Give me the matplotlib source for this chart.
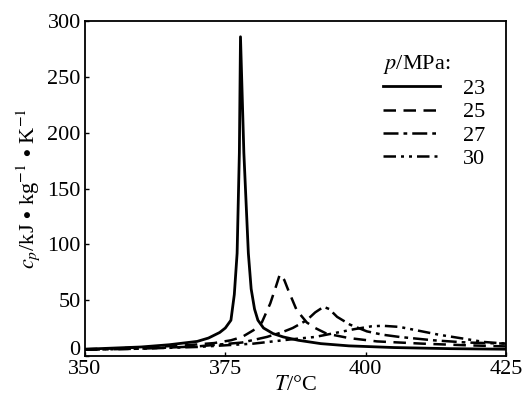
import matplotlib
matplotlib.use("Agg")
import matplotlib.pyplot as plt
from matplotlib.transforms import ScaledTranslation

plt.rcParams['font.family'] = ['Liberation Serif', 'DejaVu Serif']
plt.rcParams['mathtext.fontset'] = 'stix'

# p = 23 MPa
t_23 = [350, 360, 365, 370, 372, 374, 375, 376, 376.6, 377.1, 377.5, 377.7,
        378.3, 379.1, 379.6, 380.2, 380.8, 381.8, 383.5, 385.3, 388, 392, 397,
        405, 415, 425]
cp_23 = [6, 8, 10, 13, 16, 21, 25, 32, 55, 92, 182, 286,
         182, 92, 60, 42, 32, 25, 20, 17, 14, 11, 9,
         7.5, 6.5, 6]

# p = 25 MPa
t_25 = [350, 360, 368, 373, 376, 378, 380, 381.5, 383, 384, 384.7, 385.5,
        386.2, 387.7, 389.5, 391, 393, 397, 402, 410, 418, 425]
cp_25 = [6, 7.5, 9.5, 11.5, 14, 17, 23, 30, 47, 62, 73, 68,
         59, 41, 30, 25, 20, 16, 13, 11, 9.5, 8.5]

# p = 27 MPa
t_27 = [350, 360, 370, 378, 382.4, 385, 387, 389.5, 391, 392.5, 393.5,
        394.9, 397.2, 400.2, 403, 406, 412, 418, 425]
cp_27 = [5.5, 6.5, 8.5, 12, 17, 21, 25, 32, 39, 44, 42,
         35, 28, 22, 19, 17, 14, 12, 11]

# p = 30 MPa
t_30 = [350, 360, 370, 380, 387, 391, 395, 398, 401, 403, 406,
        410, 413, 418, 421, 425]
cp_30 = [5.5, 6.5, 8, 11, 15, 17, 21, 24, 26.5, 27, 26,
         22, 19, 15, 12.5, 11]

labels = ['23', '25', '27', '30']

fs = 16

fig = plt.figure(figsize=(5.24, 3.99), dpi=100)
ax = fig.add_axes([0.162, 0.108, 0.804, 0.839])

ax.plot(t_23, cp_23, color='black', lw=2.0, ls='-', label=labels[0])
ax.plot(t_25, cp_25, color='black', lw=1.8, ls=(0, (5, 3)), label=labels[1])
ax.plot(t_27, cp_27, color='black', lw=1.8, ls=(0, (6, 2, 1.5, 2)), label=labels[2])
ax.plot(t_30, cp_30, color='black', lw=1.8, ls=(0, (5, 2, 1.2, 2, 1.2, 2)), label=labels[3])

ax.set_xlim(350, 425)
ax.set_ylim(0, 300)
ax.set_xticks([350, 375, 400, 425])
ax.set_yticks([0, 50, 100, 150, 200, 250, 300])
ax.tick_params(direction='in', length=3, width=1, labelsize=fs, pad=3)
for s in ax.spines.values():
    s.set_linewidth(1.3)

# lift the "0" label a little so it clears "350"
fig.canvas.draw()
ylab0 = ax.get_yticklabels()[0]
ylab0.set_transform(ylab0.get_transform() + ScaledTranslation(0, 6 / 72, fig.dpi_scale_trans))

ax.set_xlabel(r'$T$/°C', fontsize=fs, labelpad=-2)
ax.set_ylabel(r'$c_p$/kJ$\,\bullet\,$kg$^{-1}$$\,\bullet\,$K$^{-1}$', fontsize=fs, labelpad=4)

leg = ax.legend(title=r'$p$/MPa:', loc='upper left', bbox_to_anchor=(0.659, 0.965),
                frameon=False, fontsize=fs, title_fontsize=fs,
                handlelength=2.6, handletextpad=1.0, labelspacing=0.12)
leg._legend_box.align = 'left'

fig.savefig('out.png', dpi=100)
